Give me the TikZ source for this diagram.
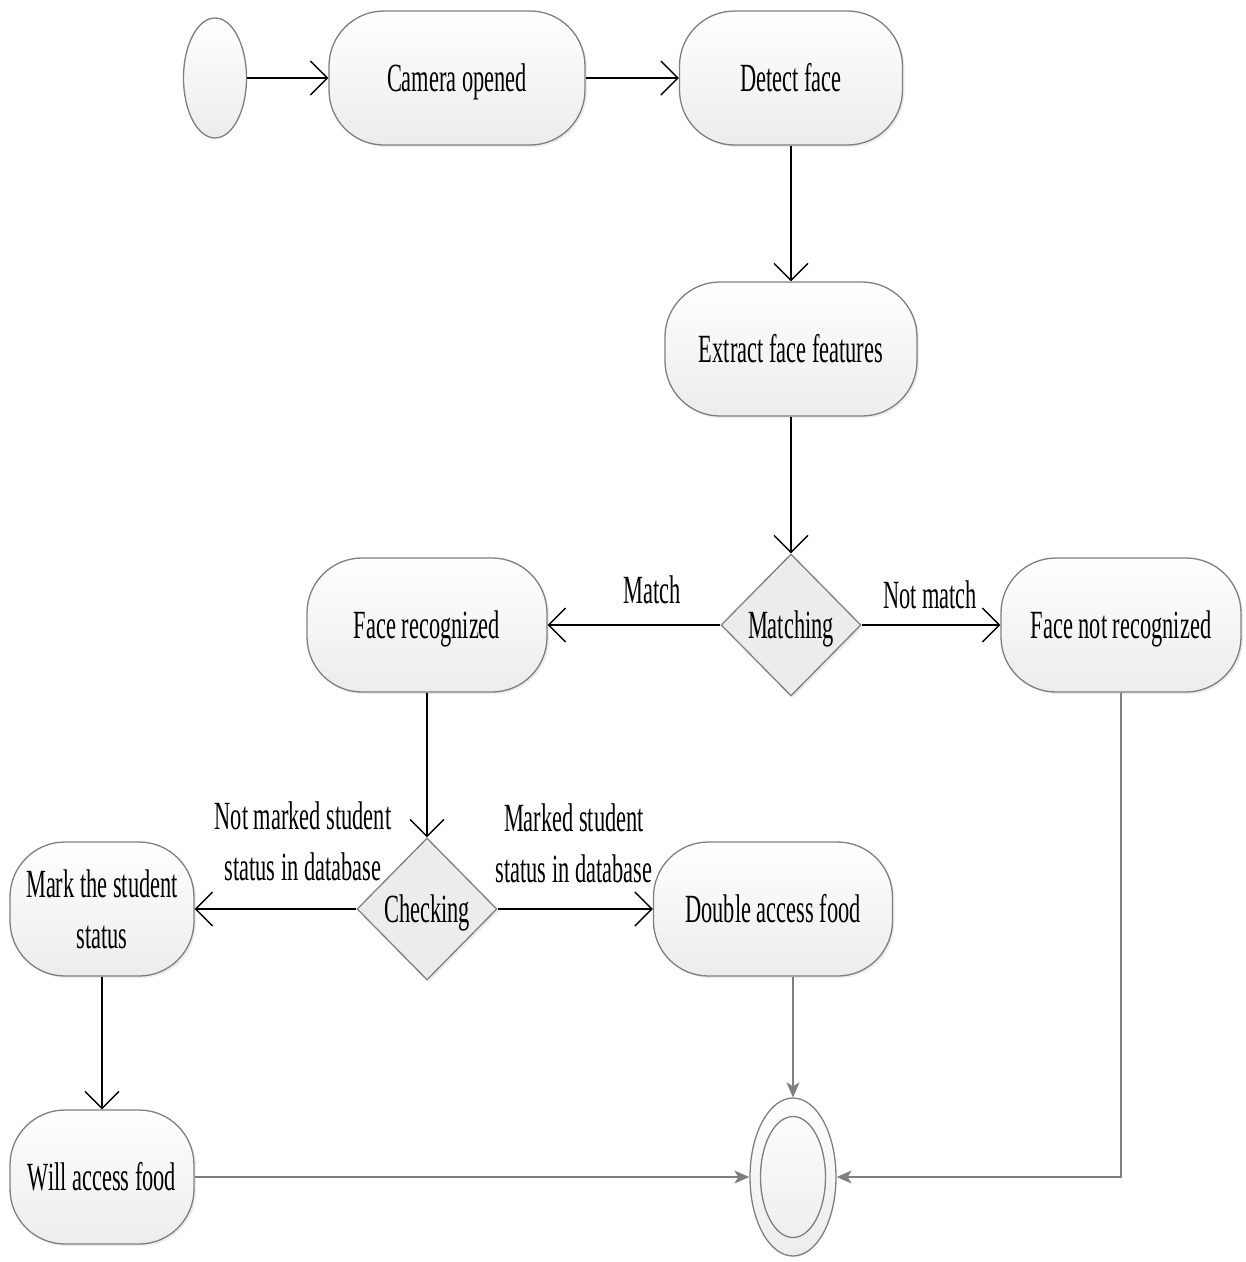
\documentclass[tikz,border=0pt]{standalone}
\usepackage{fontspec}
\setmainfont{Liberation Serif}[FakeStretch=0.56]
\usetikzlibrary{shapes.geometric,arrows.meta,shadows}

\definecolor{edgegray}{HTML}{7F7F7F}
\definecolor{fillgray}{HTML}{ECECEC}

\begin{document}
\begin{tikzpicture}[x=1pt,y=-1pt,
  every node/.style={font=\fontsize{40}{51}\selectfont},
  oneline/.style={text height=28pt, text depth=1pt},
  action/.style={draw=edgegray, line width=1.3pt, rounded corners=55pt,
    top color=white, bottom color=fillgray, minimum height=134pt,
    inner sep=0pt, align=center,
    drop shadow={shadow xshift=2pt, shadow yshift=-2pt, opacity=0.15}},
  decision/.style={diamond, draw=edgegray, line width=1.3pt, fill=fillgray,
    minimum width=140pt, minimum height=142pt, inner sep=0pt, aspect=1,
    oneline,
    drop shadow={shadow xshift=2pt, shadow yshift=-2pt, opacity=0.15}},
  terminal/.style={ellipse, draw=edgegray, line width=1.3pt,
    top color=white, bottom color=fillgray, inner sep=0pt},
  guard/.style={align=center, inner sep=0pt},
  flow/.style={draw=black, line width=1.4pt, -{Straight Barb[length=17pt,width=34pt]}},
  finalflow/.style={draw=edgegray, line width=1.2pt, -{Stealth[length=15pt,width=13pt,inset=4pt]}}
]
\useasboundingbox (0,0) rectangle (1246,1262);

% states
\node[terminal, minimum width=63pt, minimum height=120pt] (start) at (215,78) {};
\node[action, oneline, minimum width=256pt] (cam) at (457,78) {Camera opened};
\node[action, oneline, minimum width=223pt] (detect) at (791,78) {Detect face};
\node[action, oneline, minimum width=252pt] (extract) at (791,349) {Extract face features};
\node[decision] (match) at (791,625) {Matching};
\node[action, oneline, minimum width=240pt] (rec) at (427,625) {Face recognized};
\node[action, oneline, minimum width=240pt] (nrec) at (1121,625) {Face not recognized};
\node[decision] (check) at (427,909) {Checking};
\node[action, minimum width=184pt] (mark) at (102,909) {Mark the student\\status};
\node[action, oneline, minimum width=239pt] (dbl) at (773,909) {Double access food};
\node[action, oneline, minimum width=184pt] (will) at (102,1177) {Will access food};
\node[terminal, minimum width=86pt, minimum height=158pt] (final) at (793,1177) {};
\node[ellipse, draw=edgegray, line width=1.3pt, minimum width=65pt,
  minimum height=121pt, inner sep=0pt] (finalcore) at (793,1177) {};

% transitions
\draw[flow] (start) -- (cam);
\draw[flow] (cam) -- (detect);
\draw[flow] (detect) -- (extract);
\draw[flow] (extract) -- (match);
\draw[flow] (match) -- (rec);
\draw[flow] (match) -- (nrec);
\draw[flow] (rec) -- (check);
\draw[flow] (check) -- (mark);
\draw[flow] (check) -- (dbl);
\draw[flow] (mark) -- (will);

\draw[finalflow] (dbl.south -| final) -- (final);
\draw[finalflow] (will) -- (final);
\draw[finalflow] (nrec) |- (final);

% guards
\node[guard] (gmatch) at (652,590) {Match};
\node[guard] (gnomatch) at (930,595) {Not match};
\node[guard] (gnotmarked) at (303,841) {Not marked student\\status in database};
\node[guard] (gmarked) at (574,843) {Marked student\\status in database};
\end{tikzpicture}
\end{document}
